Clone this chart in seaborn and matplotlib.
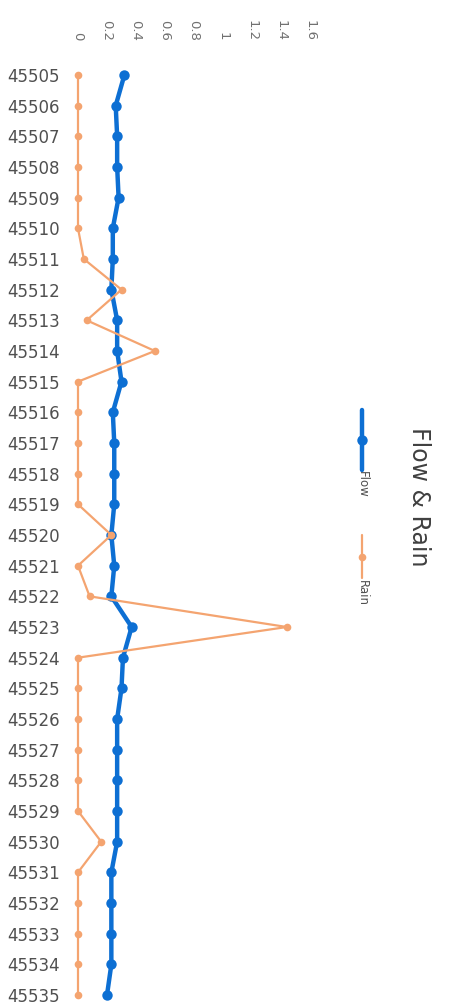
import numpy as np
import pandas as pd
import matplotlib
matplotlib.use("Agg")
import matplotlib.pyplot as plt
from matplotlib.lines import Line2D
import seaborn as sns

# Daily serial dates and the two measured series
dates = list(range(45505, 45536))
flow = [0.32, 0.26, 0.27, 0.27, 0.28, 0.24, 0.24, 0.23, 0.27, 0.27,
        0.30, 0.24, 0.25, 0.25, 0.25, 0.23, 0.25, 0.23, 0.37, 0.31,
        0.30, 0.27, 0.27, 0.27, 0.27, 0.27, 0.23, 0.23, 0.23, 0.23, 0.20]
rain = [0.0, 0.0, 0.0, 0.0, 0.0, 0.0, 0.04, 0.30, 0.06, 0.53,
        0.0, 0.0, 0.0, 0.0, 0.0, 0.23, 0.0, 0.08, 1.44, 0.0,
        0.0, 0.0, 0.0, 0.0, 0.0, 0.16, 0.0, 0.0, 0.0, 0.0, 0.0]
value_ticks = [0, 0.2, 0.4, 0.6, 0.8, 1.0, 1.2, 1.4, 1.6]
value_tick_labels = ["0", "0.2", "0.4", "0.6", "0.8", "1", "1.2", "1.4", "1.6"]
title = "Flow & Rain"
series_names = ["Flow", "Rain"]

FLOW_C = "#0D6FD3"
RAIN_C = "#F4A470"
TXT_C = "#505050"

sns.set_theme(style="white")
plt.rcParams["font.family"] = ["DejaVu Sans"]

W, H = 449, 1007
fig = plt.figure(figsize=(W / 100, H / 100), dpi=100)
fig.patch.set_facecolor("white")

top_px, bot_px, left_px, right_px = 70, 1000, 78, 310
ax = fig.add_axes([left_px / W, 1 - bot_px / H,
                   (right_px - left_px) / W, (bot_px - top_px) / H])

df = pd.DataFrame({"pos": np.arange(len(dates)), "Flow": flow, "Rain": rain})

sns.lineplot(data=df, x="Flow", y="pos", orient="y", sort=False, ax=ax,
             color=FLOW_C, lw=3.2, marker="o", markersize=7.5,
             markeredgewidth=0, clip_on=False)
sns.lineplot(data=df, x="Rain", y="pos", orient="y", sort=False, ax=ax,
             color=RAIN_C, lw=1.6, marker="o", markersize=5.5,
             markeredgewidth=0, clip_on=False)

pad = 5 / ((bot_px - top_px) / 30)
ax.set_ylim(len(dates) - 1 + pad, -pad)
ax.set_xlim(0, 1.6)

ax.set_yticks(df["pos"])
ax.set_yticklabels([str(d) for d in dates], fontsize=12, color=TXT_C)
ax.xaxis.tick_top()
ax.set_xticks(value_ticks)
ax.set_xticklabels(value_tick_labels, rotation=-90, fontsize=9.5,
                   color="#707070", va="bottom", ha="center")
ax.tick_params(axis="x", pad=21, length=0)
ax.tick_params(axis="y", pad=13, length=0)
ax.set_xlabel("")
ax.set_ylabel("")
for s in ax.spines.values():
    s.set_visible(False)
ax.grid(False)

# Title, rotated along the right edge
fig.text(419 / W, 1 - 497 / H, title, rotation=-90, ha="center", va="center",
         fontsize=17, color="#404040")

# Legend: vertical handles followed by rotated names
def fy(p):
    return 1 - p / H

for name, col, lw, ms, y0, y1, ty in [
        ("Flow", FLOW_C, 3.2, 7.5, 410, 470, 471),
        ("Rain", RAIN_C, 1.6, 5.5, 535, 578, 580)]:
    fig.add_artist(Line2D([362 / W, 362 / W], [fy(y0), fy(y1)],
                          color=col, lw=lw, transform=fig.transFigure))
    fig.add_artist(Line2D([362 / W], [fy((y0 + y1) / 2)], color=col,
                          marker="o", markersize=ms, markeredgewidth=0,
                          transform=fig.transFigure))
    fig.text(362 / W, fy(ty), name, rotation=-90, ha="center", va="top",
             fontsize=8.5, color=TXT_C)

fig.savefig("out.png", dpi=100, facecolor="white")
